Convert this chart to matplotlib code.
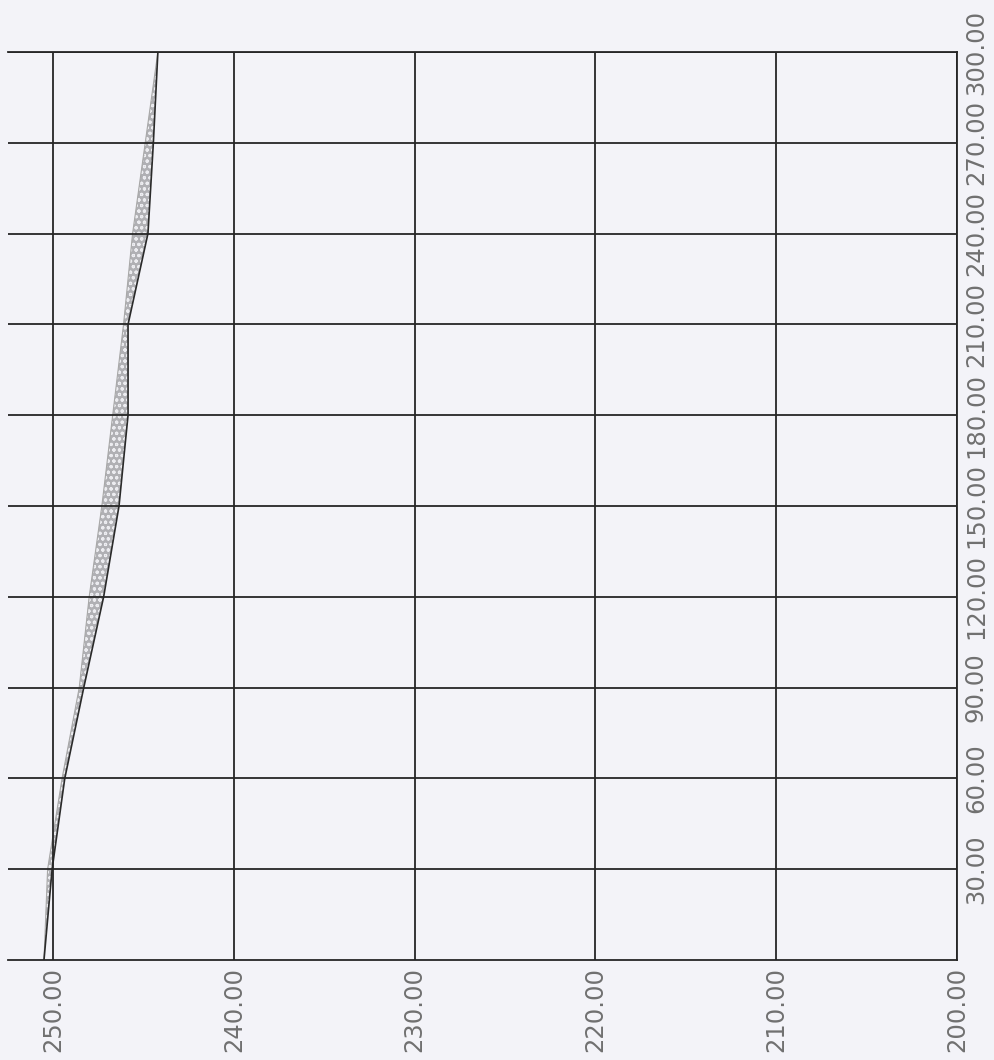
import numpy as np
import matplotlib.pyplot as plt

# time axis (vertical in the picture) and the two traces
times = [0, 30, 60, 90, 120, 150, 180, 210, 240, 270, 300]
line_vals = [250.5, 250.05, 249.35, 248.3, 247.2, 246.35, 245.85, 245.85, 244.75, 244.45, 244.2]
band_vals = [250.5, 250.3, 249.5, 248.55, 248.0, 247.3, 246.7, 246.1, 245.6, 244.9, 244.2]

value_ticks = [250, 240, 230, 220, 210, 200]
time_ticks = [30, 60, 90, 120, 150, 180, 210, 240, 270, 300]

bg = '#f3f3f8'
fig = plt.figure(figsize=(9.94, 10.60), dpi=100, facecolor=bg)
ax = fig.add_axes([8/994, 1 - 960/1060, (957 - 8)/994, (960 - 52)/1060])
ax.set_facecolor(bg)

# hatched band + dark line
plt.rcParams['hatch.linewidth'] = 0.8
ax.fill_betweenx(times, band_vals, line_vals, facecolor='#b0b0b4',
                 edgecolor='#ececf0', hatch='ooo', linewidth=0)
ax.plot(band_vals, times, color='#a8a8a8', lw=0.8)
ax.plot(line_vals, times, color='#2a2a2a', lw=1.2)

ax.set_xlim(252.49, 200)
ax.set_ylim(0, 300)

ax.set_xticks(value_ticks)
ax.set_xticklabels(['%.2f' % v for v in value_ticks], rotation=90,
                   va='top', ha='center')
ax.set_yticks(time_ticks)
ax.set_yticklabels(['%.2f' % t for t in time_ticks], rotation=90,
                   va='center', ha='left')
ax.yaxis.tick_right()

ax.tick_params(axis='x', length=0, pad=5, labelsize=17.5, labelcolor='#707070')
ax.tick_params(axis='y', length=0, pad=5, labelsize=17.5, labelcolor='#707070')

ax.grid(True, color='#262626', lw=1.3)
ax.set_axisbelow(False)
for s in ['top', 'right', 'bottom']:
    ax.spines[s].set_color('#262626')
    ax.spines[s].set_linewidth(1.3)
ax.spines['left'].set_visible(False)

plt.savefig('out.png', dpi=100, facecolor=bg)
